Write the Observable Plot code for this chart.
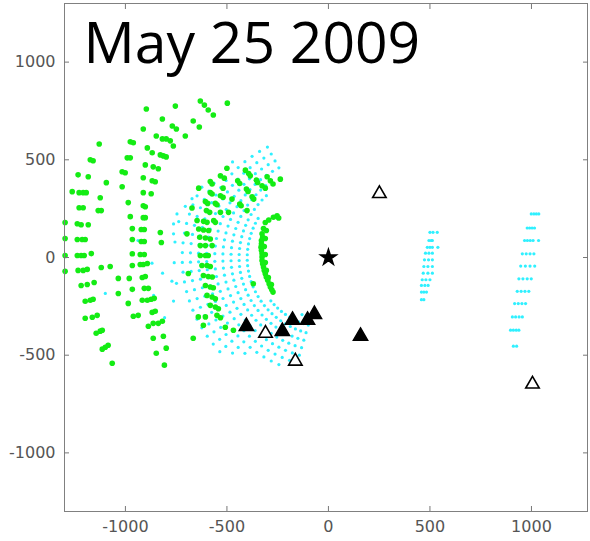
<!DOCTYPE html>
<html><head><meta charset="utf-8">
<script src="https://cdn.jsdelivr.net/npm/d3@7"></script>
<script src="https://cdn.jsdelivr.net/npm/@observablehq/plot@0.6"></script>
<style>body{margin:0;background:#fff}#chart{width:590px;height:541px}</style>
</head><body><div id="chart"></div>
<script>
const title = "May 25 2009";
const xTicks = [-1000, -500, 0, 500, 1000];
const yTicks = [-1000, -500, 0, 500, 1000];

// outer green range rings (x, y)
const greenOuter = [
[-1129,581],[-1173,500],[-1159,495],[-1233,423],[-1183,413],[-1094,383],[-1262,337],[-1228,332],[-1208,332],[-1193,332],[-1124,306],[-1228,255],[-1208,255],[-1134,240],[-1119,240],[-1297,179],[-1237,173],[-1218,168],[-1183,168],[-1297,97],[-1237,92],[-1213,92],[-1198,92],[-1297,10],[-1237,10],[-1218,10],[-1203,10],[-1168,20],[-1297,-71],[-1233,-66],[-1208,-66],[-1188,-61],[-1119,-51],[-1075,-46],[-1218,-143],[-1188,-138],[-1154,-128],[-1198,-224],[-1173,-219],[-1159,-214],[-1198,-311],[-1163,-306],[-1139,-296],[-1144,-388],[-1124,-377],[-1114,-372],[-1114,-469],[-1099,-459],[-1085,-449],[-1065,-541],
[-1035,-107],[-981,-107],[-1035,-184],[-966,-163],[-986,-235],[-961,-301],[-937,-296],[-1016,439],[-1001,434],[-991,510],[-976,510],[-976,592],[-961,587],[-897,760],[-1016,362],[-986,281],[-976,209],[-966,148],[-966,19],[-966,92],[-966,-41],
[-912,658],[-754,775],[-818,709],[-769,673],[-749,658],[-848,622],[-818,607],[-799,607],[-779,597],[-764,571],[-705,622],[-892,561],[-868,536],[-828,525],[-813,520],[-799,515],[-902,474],[-863,464],[-838,454],[-912,408],[-868,393],[-853,388],[-912,332],[-873,326],[-912,265],[-902,260],[-912,204],[-902,204],[-922,143],[-907,143],[-828,128],[-922,82],[-907,82],[-823,77],[-927,15],[-907,15],[-927,-36],[-912,-36],[-892,-31],[-917,-102],[-902,-97],[-907,-158],[-887,-158],[-917,-219],[-892,-219],[-873,-214],[-858,-209],[-868,-281],[-853,-275],[-887,-352],[-863,-337],[-838,-337],[-818,-326],[-863,-413],[-813,-403],[-848,-490],[-799,-464],[-808,-551],
[-631,801],[-611,780],[-592,755],[-567,729],[-498,790],[-666,699],[-636,668]
];

// inner green ring, upper chain and "(" arc (x, y)
const greenInner = [
[-500,457],[-532,418],[-513,406],[-582,389],[-573,376],[-639,355],[-519,355],[-582,333],[-573,325],[-532,316],[-519,308],[-606,286],[-595,277],[-557,277],[-549,270],[-672,253],[-601,240],[-585,231],[-532,231],[-492,231],[-647,189],[-615,185],[-598,180],[-565,189],[-557,180],[-639,146],[-615,141],[-590,138],[-634,104],[-606,100],[-582,95],[-631,61],[-606,61],[-573,61],[-631,10],[-606,10],[-592,10],[-623,-41],[-598,-41],[-582,-46],[-616,-92],[-592,-97],[-572,-100],[-606,-143],[-582,-151],[-567,-155],[-598,-194],[-573,-202],[-557,-211],[-582,-245],[-557,-253],[-542,-262],[-549,-296],[-532,-308],[-606,-304],[-508,-357],[-616,-347],[-666,-413],[-370,-134],[-468,-372],[-697,121],[-690,-82],[-641,-304],
[-409,447],[-393,430],[-385,418],[-355,396],[-349,384],[-327,367],[-311,355],[-302,413],[-286,393],[-273,376],[-237,401],[-447,393],[-437,379],[-404,350],[-396,338],[-376,311],[-368,299],[-475,299],[-437,274],[-430,265],[-401,240],
[-253,214],[-245,202],[-271,206],[-294,192],[-311,179],[-320,148],[-327,121],[-330,87],[-332,53],[-327,20],[-327,-15],[-320,-49],[-311,-83],[-299,-117],[-286,-151],[-273,-177],[-306,138],[-311,97],[-316,56],[-311,15],[-311,-26],[-306,-66],[-296,-102],[-281,-138],[-324,104],[-330,70],[-330,37],[-327,3],[-324,-32],[-316,-66],[-306,-100],[-292,-134],[-279,-165]
];

// cyan fan: radar beams (azimuth deg, first range, last range) and range gates
const cyanGates = [320, 360, 400, 440, 480, 520, 560, 600, 640, 680, 720, 760];
const cyanBeams = [
[118,520,640],[122,520,640],[126,480,640],[130,480,640],[134,440,680],[138,440,680],[142,440,680],[146,440,680],[150,400,720],[154,400,720],[158,400,720],[162,400,720],[166,400,760],[170,400,720],[174,400,760],[178,400,720],[182,400,760],[186,400,720],[190,400,760],[194,400,720],[198,400,720],[202,400,720],[206,400,720],[210,400,720],[214,400,720],[218,360,720],[222,360,720],[226,360,680],[230,360,640],[234,360,600],[238,360,600],[242,360,600],[246,320,600],[250,320,560],[254,360,520]
];
// sparse outer cyan points (x, y)
const cyanSparse = [[-938,87],[-869,-29],[-817,-80],[-771,-121],[-861,-194],[-763,-223],[-807,-308],[-1099,-184],[-763,172],[-763,121],[-705,262],[-746,223],[-672,301]];
// cyan arcs on the right (x, y)
const cyanArcA = [
[500,129],[515,129],[536,129],[495,87],[506,87],[512,87],[487,52],[500,52],[512,52],[539,52],[478,22],[495,22],[512,22],[473,-12],[493,-12],[512,-12],[470,-46],[490,-46],[512,-46],[467,-80],[490,-80],[512,-80],[462,-114],[480,-114],[500,-114],[458,-143],[475,-143],[491,-143],[458,-177],[470,-177],[483,-177],[458,-216],[470,-216]
];
const cyanArcB = [
[999,223],[1012,223],[1024,223],[1036,223],[979,151],[991,151],[1003,151],[1015,151],[966,87],[980,87],[994,87],[1008,87],[1035,87],[955,19],[974,19],[993,19],[1012,19],[947,-44],[970,-44],[993,-44],[1016,-44],[938,-109],[958,-109],[979,-109],[999,-109],[930,-173],[949,-173],[968,-173],[987,-173],[917,-236],[935,-236],[953,-236],[971,-236],[906,-304],[922,-304],[939,-304],[955,-304],[897,-372],[911,-372],[925,-372],[938,-372],[911,-454],[927,-454]
];

const filledTriangles = [[-404,-352],[-227,-378],[-177,-321],[-103,-321],[-69,-291],[158,-403]];
const openTriangles = [[-310,-388],[-163,-531],[251,327],[1005,-648]];
const starPoint = [[0,0]];

const pts = arr => arr.map(([x, y]) => ({x, y}));
const cyanFan = [];
for (const [az, r0, r1] of cyanBeams) {
  for (const r of cyanGates) {
    if (r >= r0 && r <= r1) {
      const a = az * Math.PI / 180;
      cyanFan.push({x: r * Math.cos(a), y: r * Math.sin(a)});
    }
  }
}
const cyanAll = cyanFan.concat(pts(cyanSparse), pts(cyanArcA), pts(cyanArcB));
const greenAll = pts(greenOuter).concat(pts(greenInner));

const GREEN = "#14ec14";
const CYAN = "#2ff0ff";
const blank = () => "";
const plain = d => String(d);

const chart = Plot.plot({
  width: 590, height: 541,
  marginLeft: 64, marginRight: 3, marginTop: 3, marginBottom: 30,
  x: {domain: [-1300, 1276], label: null},
  y: {domain: [-1300, 1300], label: null},
  style: {fontFamily: "DejaVu Sans", fontSize: "16px", background: "#fff"},
  marks: [
    Plot.dot(cyanAll, {x: "x", y: "y", r: 1.6, fill: CYAN, stroke: null}),
    Plot.dot(greenAll, {x: "x", y: "y", r: 2.8, fill: GREEN, stroke: null}),
    Plot.dot(pts(filledTriangles), {x: "x", y: "y", symbol: "triangle", r: 5.3, fill: "#000", stroke: "#000"}),
    Plot.dot(pts(openTriangles), {x: "x", y: "y", symbol: "triangle", r: 5, fill: "#fff", stroke: "#000", strokeWidth: 1.6}),
    Plot.dot(pts(starPoint), {x: "x", y: "y", symbol: "star", r: 5, fill: "#000", stroke: "#000"}),
    Plot.frame({stroke: "#808080"}),
    Plot.axisX(xTicks, {anchor: "bottom", tickSize: 0, tickPadding: 9, tickFormat: plain, fill: "#555", label: null}),
    Plot.axisY(yTicks, {anchor: "left", tickSize: 0, tickPadding: 9, tickFormat: plain, fill: "#555", label: null}),
    Plot.axisX(xTicks, {anchor: "bottom", tickSize: -5, tickFormat: blank, stroke: "#777", label: null}),
    Plot.axisX(xTicks, {anchor: "top", tickSize: -5, tickFormat: blank, stroke: "#777", label: null}),
    Plot.axisY(yTicks, {anchor: "left", tickSize: -5, tickFormat: blank, stroke: "#777", label: null}),
    Plot.axisY(yTicks, {anchor: "right", tickSize: -5, tickFormat: blank, stroke: "#777", label: null}),
    Plot.text([title], {frameAnchor: "top-left", text: d => d, dx: 19, dy: 19, lineAnchor: "top", textAnchor: "start", fontSize: 57, fontFamily: "Open Sans", fill: "#000"})
  ]
});
document.getElementById("chart").appendChild(chart);
</script>
</body></html>
